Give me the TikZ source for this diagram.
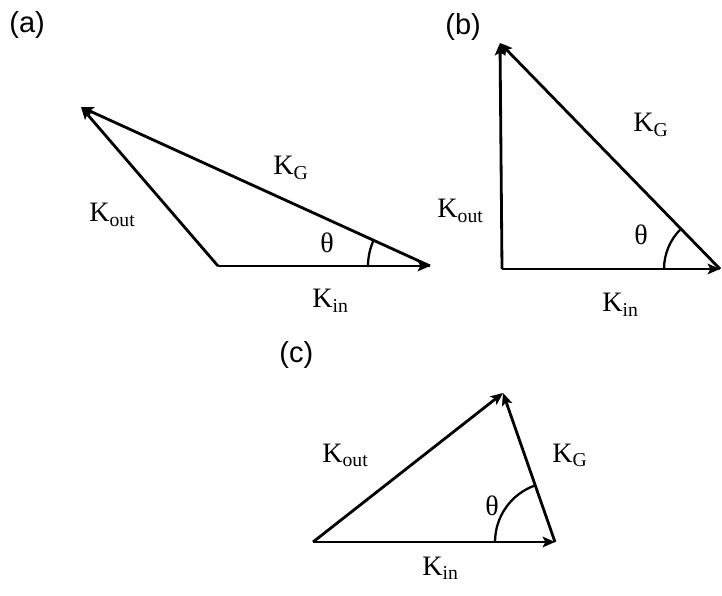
\documentclass[tikz,border=0pt]{standalone}
\usepackage{fontspec}
\setmainfont{Liberation Serif}
\newfontfamily\panelfont{Liberation Sans}
\usetikzlibrary{arrows.meta,angles}
\tikzset{
  vec/.style={line width=1.6pt,->},
  lbl/.style={anchor=base west,inner sep=0pt,font=\fontsize{16}{19}\selectfont},
  panel/.style={anchor=base west,inner sep=0pt,font=\panelfont\fontsize{16.5}{20}\selectfont},
  ang/.style={draw,line width=1.3pt}
}
\begin{document}
\begin{tikzpicture}[>={Stealth[length=7pt,width=6pt,inset=1.5pt]}, x=0.02cm, y=0.02cm]
\useasboundingbox (0,0) rectangle (722,595);

% (a)
\coordinate (Oa) at (218,329);
\coordinate (Ea) at (430,329);
\coordinate (Ta) at (81,488);
\draw[vec](Oa)--(Ea);
\draw[vec](Oa)--(Ta);
\draw[vec](Ea)--(Ta);
\pic[ang, angle radius=1.24cm]{angle=Ta--Ea--Oa};
\node[panel] (pa) at (9,562) {(a)};
\node[lbl] (kGa) at (273,420) {K\textsubscript{G}};
\node[lbl] (kouta) at (89,373) {K\textsubscript{out}};
\node[lbl] (tha) at (320,342) {θ};
\node[lbl] (kina) at (312,287) {K\textsubscript{in}};

% (b)
\coordinate (Ob) at (502,326);
\coordinate (Eb) at (720,326);
\coordinate (Tb) at (500,552);
\draw[vec](Ob)--(Eb);
\draw[vec](Ob)--(Tb);
\draw[vec](Eb)--(Tb);
\pic[ang, angle radius=1.12cm]{angle=Tb--Eb--Ob};
\node[panel] (pb) at (445,560) {(b)};
\node[lbl] (kGb) at (633,463) {K\textsubscript{G}};
\node[lbl] (koutb) at (437,377) {K\textsubscript{out}};
\node[lbl] (thb) at (634,350) {θ};
\node[lbl] (kinb) at (602,283) {K\textsubscript{in}};

% (c)
\coordinate (Oc) at (313,53);
\coordinate (Ec) at (555,53);
\coordinate (Tc) at (503,202);
\draw[vec](Oc)--(Ec);
\draw[vec](Oc)--(Tc);
\draw[vec](Ec)--(Tc);
\pic[ang, angle radius=1.2cm]{angle=Tc--Ec--Oc};
\node[panel] (pc) at (279,233) {(c)};
\node[lbl] (koutc) at (322,133) {K\textsubscript{out}};
\node[lbl] (kGc) at (552,133) {K\textsubscript{G}};
\node[lbl] (thc) at (485,80) {θ};
\node[lbl] (kinc) at (422,20) {K\textsubscript{in}};

\end{tikzpicture}
\end{document}
